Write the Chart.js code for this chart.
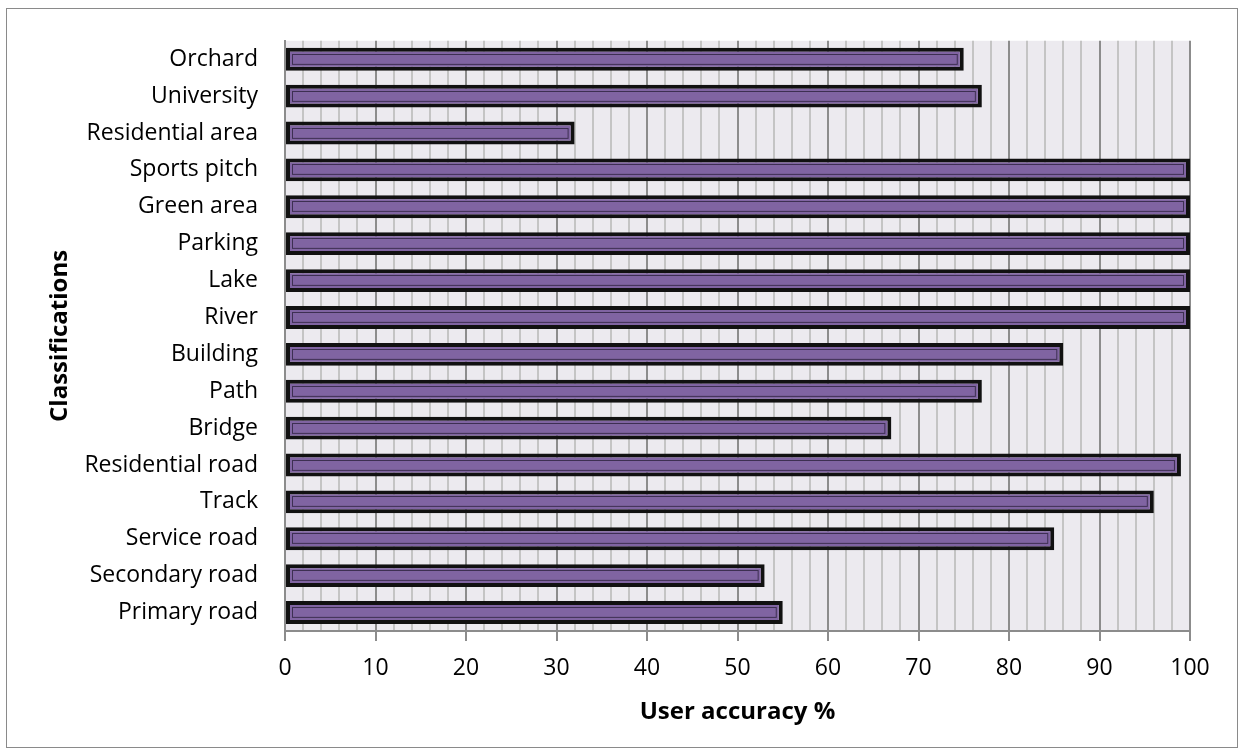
<!DOCTYPE html>
<html>
<head>
<meta charset="utf-8">
<script src="https://cdn.jsdelivr.net/npm/chart.js@4.4.0/dist/chart.umd.min.js"></script>
<style>
  html, body { margin: 0; padding: 0; background: #fff; }
  #wrap { width: 1240px; height: 756px; }
</style>
</head>
<body>
<div id="wrap"><canvas id="myChart" width="1240" height="756"></canvas></div>
<script>
// data, top to bottom as in the picture
const classes = ['Orchard', 'University', 'Residential area', 'Sports pitch', 'Green area', 'Parking',
  'Lake', 'River', 'Building', 'Path', 'Bridge', 'Residential road', 'Track', 'Service road',
  'Secondary road', 'Primary road'];
const accuracy = [75, 77, 32, 100, 100, 100, 100, 100, 86, 77, 67, 99, 96, 85, 53, 55];
const xMin = 0;
const xMax = 100;
const xStep = 2;
const xLabelEvery = 10;

const FONT = "'Open Sans', sans-serif";

// white page, thin frame and the grey plot area
const backdrop = {
  id: 'backdrop',
  beforeDraw(chart) {
    const { ctx, chartArea: a } = chart;
    ctx.save();
    ctx.fillStyle = '#fff';
    ctx.fillRect(0, 0, chart.width, chart.height);
    ctx.strokeStyle = '#8a8a8a';
    ctx.lineWidth = 1;
    ctx.strokeRect(6.5, 8.5, 1231, 739);
    ctx.fillStyle = '#ECEAEF';
    ctx.fillRect(a.left, a.top, a.right - a.left, a.bottom - a.top);
    ctx.restore();
  }
};

// thin dark line inside each bar (the double border look)
const innerLine = {
  id: 'innerLine',
  afterDatasetsDraw(chart) {
    const ctx = chart.ctx;
    const meta = chart.getDatasetMeta(0);
    ctx.save();
    ctx.strokeStyle = '#3d2f52';
    ctx.lineWidth = 1;
    meta.data.forEach((bar) => {
      const p = bar.getProps(['x', 'y', 'base', 'height'], true);
      const l = Math.min(p.x, p.base), r = Math.max(p.x, p.base);
      const t = p.y - p.height / 2;
      ctx.strokeRect(Math.round(l) + 6.5, Math.round(t) + 6.5, r - l - 13, p.height - 13);
    });
    ctx.restore();
  }
};

const context = document.getElementById('myChart').getContext('2d');
const myChart = new Chart(context, {
  type: 'bar',
  data: {
    labels: classes,
    datasets: [{
      label: 'User accuracy %',
      data: accuracy,
      backgroundColor: '#8064A2',
      borderColor: '#111111',
      borderWidth: 4,
      borderSkipped: false,
      barPercentage: 0.62,
      categoryPercentage: 1
    }]
  },
  options: {
    indexAxis: 'y',
    responsive: false,
    animation: false,
    layout: { padding: { top: 37, right: 50, left: 0, bottom: 0 } },
    plugins: {
      legend: { display: false },
      tooltip: { enabled: false }
    },
    scales: {
      x: {
        min: xMin,
        max: xMax,
        afterFit: (scale) => { scale.height = 125; },
        ticks: {
          stepSize: xStep,
          autoSkip: false,
          maxRotation: 0,
          padding: 14,
          color: '#000',
          font: { family: FONT, size: 23 },
          callback: (v) => (v % xLabelEvery === 0 ? v : '')
        },
        grid: {
          color: (c) => (c.tick && c.tick.value % xLabelEvery === 0 ? '#8c8c8c' : '#c4c4c4'),
          lineWidth: 2,
          tickLength: 10,
          tickColor: (c) => (c.tick && c.tick.value % xLabelEvery === 0 ? '#8c8c8c' : 'rgba(0,0,0,0)'),
          tickWidth: 2
        },
        border: { display: true, color: '#8c8c8c', width: 2 },
        title: {
          display: true,
          text: 'User accuracy %',
          color: '#000',
          font: { family: FONT, size: 24, weight: 'bold' },
          padding: { top: 0, bottom: 29 }
        }
      },
      y: {
        afterFit: (scale) => { scale.width = 285; },
        ticks: {
          padding: 27,
          color: '#000',
          font: { family: FONT, size: 23 }
        },
        grid: { display: false, drawTicks: false },
        border: { display: true, color: '#8c8c8c', width: 2 },
        title: {
          display: true,
          text: 'Classifications',
          color: '#000',
          font: { family: FONT, size: 24, weight: 'bold' },
          padding: { top: 46, bottom: 0 }
        }
      }
    }
  },
  plugins: [backdrop, innerLine]
});
</script>
</body>
</html>
